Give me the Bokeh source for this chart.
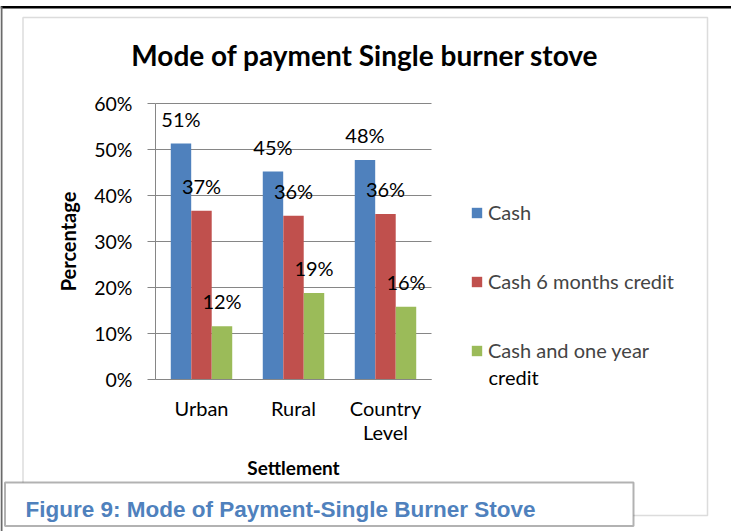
from bokeh.plotting import figure
from bokeh.models import (Range1d, ColumnDataSource, LabelSet, Label,
                          BoxAnnotation, FixedTicker, NumeralTickFormatter, Legend, LegendItem)
from bokeh.transform import dodge
from bokeh.core.properties import value
from bokeh.embed import file_html
from bokeh.resources import INLINE

# ---- data ----
categories = ["Urban", "Rural", "Country\nLevel"]
series_names = ["Cash", "Cash 6 months credit", "Cash and one year\ncredit"]
cash = [0.513, 0.452, 0.477]
cash_6_months = [0.367, 0.356, 0.360]
cash_one_year = [0.116, 0.188, 0.158]
y_ticks = [0.0, 0.1, 0.2, 0.3, 0.4, 0.5, 0.6]
colors = ["#4F81BD", "#C0504D", "#9BBB59"]
chart_title = "Mode of payment Single burner stove"
x_title = "Settlement"
y_title = "Percentage"
caption = "Figure 9: Mode of Payment-Single Burner Stove"

FONT = "Lato"
GRID = "#868686"

OFF = 0          # where the canvas sits in the picture
W, H = 731, 531
PL, PR, PT, PB = 155, 431, 103, 379   # plot area in picture px
YMAX = 0.6
NCAT = len(categories)


def dx(px):
    return (px - PL) / ((PR - PL) / NCAT)


def dy(py):
    return (PB - py) / ((PB - PT) / YMAX)


cat_x = [i + 0.5 for i in range(NCAT)]
src = ColumnDataSource(dict(
    x=cat_x,
    cash=cash, c6=cash_6_months, c1=cash_one_year,
    l_cash=[f"{round(v * 100)}%" for v in cash],
    l_c6=[f"{round(v * 100)}%" for v in cash_6_months],
    l_c1=[f"{round(v * 100)}%" for v in cash_one_year],
))

p = figure(width=W, height=H,
           x_range=Range1d(dx(OFF), dx(OFF + W)),
           y_range=Range1d(dy(OFF + H), dy(OFF)),
           output_backend="svg", toolbar_location=None,
           min_border=0, background_fill_color="white",
           border_fill_color="white", outline_line_color=None)

# decorations behind
p.add_layout(BoxAnnotation(left=dx(0), right=dx(731), top=dy(5.5), bottom=dy(8),
                           fill_color="black", fill_alpha=1, line_color=None, level="underlay"))
p.add_layout(BoxAnnotation(left=dx(0), right=dx(2), top=dy(6), bottom=dy(531),
                           fill_color="#6a6a6a", fill_alpha=1, line_color=None, level="underlay"))
p.add_layout(BoxAnnotation(left=dx(22.5), right=dx(707), top=dy(17), bottom=dy(515),
                           fill_alpha=0, line_color="#8a8a8a", line_width=1.5, level="underlay"))

# horizontal gridlines over the plot area only
p.segment(x0=[0] * len(y_ticks), x1=[NCAT] * len(y_ticks), y0=y_ticks, y1=y_ticks,
          line_color=GRID, line_width=1)

offs = [-0.223, 0.0, 0.223]
fields = ["cash", "c6", "c1"]
lfields = ["l_cash", "l_c6", "l_c1"]
renderers = []
for i in range(3):
    r = p.vbar(x=dodge("x", offs[i]), top=fields[i], width=0.222,
               source=src, fill_color=colors[i], line_color=None)
    renderers.append(r)
    p.add_layout(LabelSet(x=dodge("x", offs[i]), y=fields[i],
                          text=lfields[i], source=src, y_offset=25,
                          text_align="center", text_baseline="middle",
                          text_font=value(FONT), text_font_size="20px",
                          text_color="black"))

# axes
yax = p.yaxis[0]
yax.fixed_location = 0
yax.bounds = (0, YMAX)
yax.ticker = FixedTicker(ticks=y_ticks)
yax.formatter = NumeralTickFormatter(format="0%")
yax.axis_line_color = GRID
yax.major_tick_line_color = GRID
yax.major_tick_out = 8
yax.major_tick_in = 0
yax.minor_tick_line_color = None
yax.major_label_standoff = 15
yax.major_label_text_font = FONT
yax.major_label_text_font_size = "19.5px"
yax.major_label_text_color = "black"
yax.axis_label = y_title
yax.axis_label_text_font = FONT
yax.axis_label_text_font_style = "bold"
yax.axis_label_text_font_size = "20px"
yax.axis_label_standoff = 11
yax.axis_label_text_color = "black"

xax = p.xaxis[0]
xax.fixed_location = 0
xax.bounds = (0, NCAT)
xax.ticker = FixedTicker(ticks=cat_x)
xax.major_label_overrides = {x: c for x, c in zip(cat_x, categories)}
xax.axis_line_color = GRID
xax.major_tick_line_color = None
xax.major_tick_out = 0
xax.minor_tick_line_color = None
xax.major_label_standoff = 16
xax.major_label_text_font = FONT
xax.major_label_text_font_size = "20px"
xax.major_label_text_line_height = 1.0
xax.major_label_text_color = "black"
xax.axis_label = x_title
xax.axis_label_text_font = FONT
xax.axis_label_text_font_style = "bold"
xax.axis_label_text_font_size = "19px"
xax.axis_label_standoff = 9
xax.axis_label_text_color = "black"

p.xgrid.grid_line_color = None
p.ygrid.grid_line_color = None

# legend (last entry's second line is set as a label under it)
legend_lines = [s.split("\n") for s in series_names]
legend = Legend(items=[LegendItem(label=legend_lines[i][0], renderers=[renderers[i]]) for i in range(3)],
                location=(470 - OFF, (OFF + H) - 363), orientation="vertical",
                label_text_font=FONT, label_text_font_size="20px",
                label_text_line_height=1.3, label_height=26,
                glyph_width=13, glyph_height=13, spacing=43, padding=0, margin=0,
                label_standoff=5, border_line_color=None, background_fill_alpha=0)
p.add_layout(legend)
p.add_layout(Label(x=dx(488), y=dy(376), text=" ".join(legend_lines[2][1:]),
                   text_align="left", text_baseline="middle", text_font=FONT,
                   text_font_size="20px", text_color="black"))

p.add_layout(Label(x=dx(364.5), y=dy(54), text=chart_title, text_align="center",
                   text_baseline="middle", text_font=FONT, text_font_style="bold",
                   text_font_size="28px", text_color="black"))

# caption box
p.add_layout(BoxAnnotation(left=dx(4.5), right=dx(633), top=dy(482), bottom=dy(525.5),
                           fill_color="white", fill_alpha=1, line_color="black", line_width=2))
p.add_layout(Label(x=dx(25), y=dy(509), text=caption, text_align="left",
                   text_baseline="alphabetic", text_font="Liberation Sans",
                   text_font_style="bold", text_font_size="22.5px", text_color="#4F81BD"))

open("out.html", "w").write(file_html(p, INLINE))
